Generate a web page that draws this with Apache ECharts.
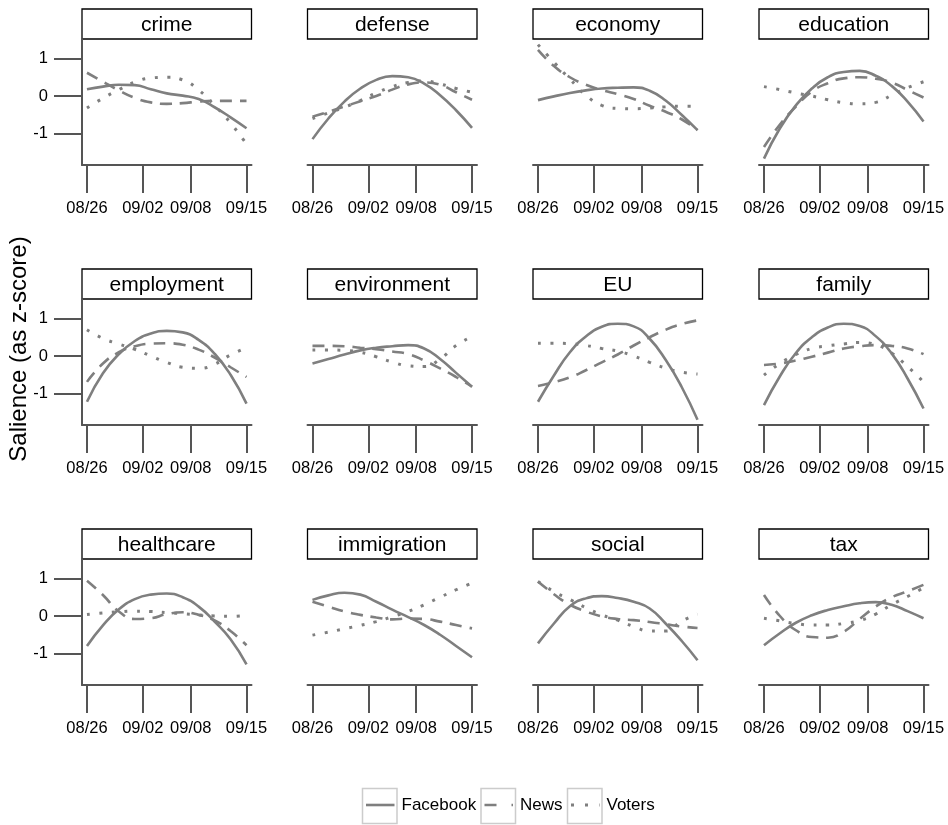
<!DOCTYPE html>
<html>
<head>
<meta charset="utf-8">
<script src="https://cdn.jsdelivr.net/npm/echarts@6/dist/echarts.min.js"></script>
<style>
  html, body { margin: 0; padding: 0; background: #fff; }
  #chart { width: 948px; height: 825px; }
</style>
</head>
<body>
<div id="chart"></div>
<script>
// Topics shown as small multiples, in reading order
const topics = ['crime', 'defense', 'economy', 'education',
                'employment', 'environment', 'EU', 'family',
                'healthcare', 'immigration', 'social', 'tax'];

// Smoothed salience is sampled every second day
const sampleDates = ['2018-08-26', '2018-08-28', '2018-08-30', '2018-09-01',
                     '2018-09-03', '2018-09-05', '2018-09-07', '2018-09-09',
                     '2018-09-11', '2018-09-13', '2018-09-15'];
const tickDates = ['2018-08-26', '2018-09-02', '2018-09-08', '2018-09-15'];
const yTicks = [-1, 0, 1];

const facebook = {
  crime:       [0.18, 0.25, 0.30, 0.29, 0.18, 0.07, 0.01, -0.08, -0.30, -0.57, -0.86],
  defense:     [-1.15, -0.60, -0.15, 0.20, 0.43, 0.53, 0.50, 0.33, 0.02, -0.38, -0.85],
  economy:     [-0.11, -0.01, 0.08, 0.15, 0.20, 0.22, 0.23, 0.14, -0.12, -0.50, -0.91],
  education:   [-1.67, -0.86, -0.25, 0.20, 0.50, 0.64, 0.67, 0.54, 0.27, -0.15, -0.68],
  employment:  [-1.22, -0.46, 0.05, 0.40, 0.60, 0.67, 0.63, 0.43, 0.06, -0.50, -1.27],
  environment: [-0.20, -0.08, 0.04, 0.15, 0.22, 0.26, 0.29, 0.20, -0.08, -0.45, -0.82],
  EU:          [-1.22, -0.52, 0.10, 0.52, 0.78, 0.86, 0.79, 0.46, -0.10, -0.82, -1.70],
  family:      [-1.31, -0.54, 0.08, 0.50, 0.76, 0.86, 0.80, 0.53, 0.07, -0.60, -1.40],
  healthcare:  [-0.80, -0.25, 0.18, 0.45, 0.57, 0.60, 0.50, 0.25, -0.15, -0.62, -1.29],
  immigration: [0.43, 0.55, 0.62, 0.57, 0.38, 0.17, -0.03, -0.24, -0.50, -0.80, -1.10],
  social:      [-0.73, -0.20, 0.26, 0.47, 0.53, 0.48, 0.38, 0.20, -0.20, -0.66, -1.18],
  tax:         [-0.78, -0.46, -0.18, 0.02, 0.16, 0.26, 0.34, 0.37, 0.30, 0.13, -0.06]
};

const news = {
  crime:       [0.62, 0.38, 0.15, -0.05, -0.17, -0.21, -0.19, -0.15, -0.13, -0.13, -0.13],
  defense:     [-0.55, -0.42, -0.28, -0.14, 0.00, 0.17, 0.31, 0.36, 0.30, 0.10, -0.10],
  economy:     [1.23, 0.80, 0.50, 0.30, 0.16, 0.05, -0.08, -0.26, -0.42, -0.62, -0.91],
  education:   [-1.36, -0.76, -0.28, 0.12, 0.34, 0.47, 0.50, 0.46, 0.36, 0.16, -0.04],
  employment:  [-0.69, -0.20, 0.10, 0.26, 0.33, 0.34, 0.30, 0.17, -0.04, -0.30, -0.56],
  environment: [0.27, 0.27, 0.26, 0.22, 0.18, 0.12, 0.05, -0.12, -0.33, -0.56, -0.82],
  EU:          [-0.80, -0.70, -0.57, -0.38, -0.17, 0.04, 0.28, 0.50, 0.70, 0.85, 0.95],
  family:      [-0.24, -0.20, -0.12, -0.02, 0.09, 0.20, 0.26, 0.29, 0.27, 0.20, 0.05],
  healthcare:  [0.94, 0.56, 0.12, -0.08, -0.06, 0.05, 0.10, 0.03, -0.12, -0.40, -0.78],
  immigration: [0.38, 0.25, 0.12, 0.03, -0.04, -0.09, -0.07, -0.08, -0.15, -0.24, -0.33],
  social:      [0.92, 0.58, 0.30, 0.12, -0.01, -0.08, -0.11, -0.16, -0.22, -0.28, -0.32],
  tax:         [0.56, 0.00, -0.38, -0.56, -0.58, -0.42, -0.08, 0.25, 0.50, 0.66, 0.83]
};

const voters = {
  crime:       [-0.32, -0.06, 0.17, 0.37, 0.48, 0.50, 0.43, 0.16, -0.25, -0.72, -1.28],
  defense:     [-0.60, -0.45, -0.30, -0.12, 0.08, 0.25, 0.36, 0.40, 0.32, 0.20, 0.10],
  economy:     [1.37, 0.90, 0.45, 0.02, -0.25, -0.33, -0.34, -0.32, -0.29, -0.27, -0.27],
  education:   [0.25, 0.17, 0.08, 0.00, -0.10, -0.18, -0.21, -0.17, 0.02, 0.22, 0.38],
  employment:  [0.70, 0.47, 0.32, 0.18, 0.00, -0.17, -0.30, -0.33, -0.22, 0.03, 0.22],
  environment: [0.16, 0.16, 0.15, 0.10, -0.02, -0.16, -0.26, -0.28, -0.08, 0.28, 0.52],
  EU:          [0.34, 0.34, 0.33, 0.28, 0.20, 0.13, 0.00, -0.17, -0.32, -0.43, -0.48],
  family:      [-0.51, -0.20, 0.04, 0.20, 0.27, 0.32, 0.36, 0.30, 0.08, -0.28, -0.69],
  healthcare:  [0.04, 0.08, 0.11, 0.13, 0.12, 0.09, 0.06, 0.03, 0.00, -0.01, 0.02],
  immigration: [-0.51, -0.43, -0.34, -0.25, -0.15, -0.02, 0.12, 0.30, 0.50, 0.70, 0.88],
  social:      [0.92, 0.65, 0.44, 0.22, 0.03, -0.11, -0.28, -0.40, -0.40, -0.14, 0.05],
  tax:         [-0.06, -0.13, -0.20, -0.24, -0.24, -0.20, -0.12, 0.05, 0.30, 0.52, 0.75]
};

const sources = [
  { name: 'Facebook', values: facebook, dash: 'solid',  width: 2.6 },
  { name: 'News',     values: news,     dash: [12, 8],  width: 2.6 },
  { name: 'Voters',   values: voters,   dash: [3, 9.5], width: 3 }
];

const DAY = 86400000;
const toTime = s => { const p = s.split('-'); return Date.UTC(+p[0], +p[1] - 1, +p[2]); };
const pad = n => (n < 10 ? '0' : '') + n;
const fmtDate = v => { const d = new Date(v); return pad(d.getUTCMonth() + 1) + '/' + pad(d.getUTCDate()); };

const sampleTimes = sampleDates.map(toTime);
const tickTimes = tickDates.map(toTime);
const xMin = tickTimes[0] - 0.625 * DAY;
const xMax = tickTimes[tickTimes.length - 1] + 0.625 * DAY;

// panel geometry
const colLeft = [82, 307.5, 533, 759];
const rowTop = [39, 299, 559];
const panelW = 169.5, panelH = 126, stripH = 30;

const lineColor = '#7f7f7f';
const axisColor = '#555555';
const font = '"Liberation Sans", Arial, Helvetica, sans-serif';

const grid = [], xAxis = [], yAxis = [], series = [], graphic = [];

topics.forEach((topic, i) => {
  const r = Math.floor(i / 4), c = i % 4;
  const left = colLeft[c], top = rowTop[r];
  grid.push({ left: left, top: top, width: panelW, height: panelH, containLabel: false });

  // dates run on a plain numeric (epoch ms) axis so the ticks can sit on chosen days
  xAxis.push({
    type: 'value', gridIndex: i, min: xMin, max: xMax, scale: true,
    axisLine: { show: true, onZero: false, lineStyle: { color: axisColor, width: 2 } },
    axisTick: { show: true, length: 28, customValues: tickTimes, lineStyle: { color: axisColor, width: 2 } },
    axisLabel: { show: true, customValues: tickTimes, margin: 35, formatter: fmtDate,
                 fontFamily: font, fontSize: 16.5, color: '#000' },
    splitLine: { show: false }
  });

  const first = c === 0;
  yAxis.push({
    type: 'value', gridIndex: i, min: -1.84, max: 1.52,
    axisLine: { show: first, onZero: false, lineStyle: { color: axisColor, width: 2 } },
    axisTick: { show: first, length: 28, customValues: yTicks, lineStyle: { color: axisColor, width: 2 } },
    axisLabel: { show: first, customValues: yTicks, margin: 34,
                 fontFamily: font, fontSize: 16.5, color: '#000' },
    splitLine: { show: false }
  });

  sources.forEach(src => {
    series.push({
      name: src.name, type: 'line', xAxisIndex: i, yAxisIndex: i,
      data: sampleTimes.map((t, k) => [t, src.values[topic][k]]),
      smooth: 0.5, showSymbol: false, silent: true,
      lineStyle: { color: lineColor, width: src.width, type: src.dash, cap: 'butt' }
    });
  });

  // panel strip with topic name
  graphic.push({
    type: 'rect', shape: { x: left, y: top - stripH, width: panelW, height: stripH },
    style: { fill: '#fff', stroke: '#000', lineWidth: 1.3 }
  });
  graphic.push({
    type: 'text', x: left + panelW / 2, y: top - stripH / 2 + 1,
    style: { text: topic, fill: '#000', font: '21px ' + font, align: 'center', verticalAlign: 'middle' }
  });
});

// y-axis title
graphic.push({
  type: 'text', x: 19, y: 349, rotation: Math.PI / 2,
  style: { text: 'Salience (as z-score)', fill: '#000', font: '24px ' + font,
           align: 'center', verticalAlign: 'middle' }
});

// legend keys
const legendKeys = [
  { box: 362.5, label: 'Facebook', dash: null,     width: 2.6 },
  { box: 481,   label: 'News',     dash: [12, 15], width: 2.6 },
  { box: 567.5, label: 'Voters',   dash: [3, 11],  width: 3 }
];
legendKeys.forEach(k => {
  graphic.push({
    type: 'rect', shape: { x: k.box, y: 788.5, width: 34.5, height: 35 },
    style: { fill: '#fff', stroke: '#cccccc', lineWidth: 1.5 }
  });
  graphic.push({
    type: 'line', shape: { x1: k.box + 3.5, y1: 805, x2: k.box + 32, y2: 805 },
    style: { stroke: lineColor, lineWidth: k.width, lineDash: k.dash }
  });
  graphic.push({
    type: 'text', x: k.box + 39, y: 805,
    style: { text: k.label, fill: '#000', font: '17px ' + font, verticalAlign: 'middle' }
  });
});

const chart = echarts.init(document.getElementById('chart'), null, { renderer: 'canvas' });
chart.setOption({
  animation: false,
  backgroundColor: '#fff',
  grid: grid, xAxis: xAxis, yAxis: yAxis, series: series, graphic: graphic
});
</script>
</body>
</html>
